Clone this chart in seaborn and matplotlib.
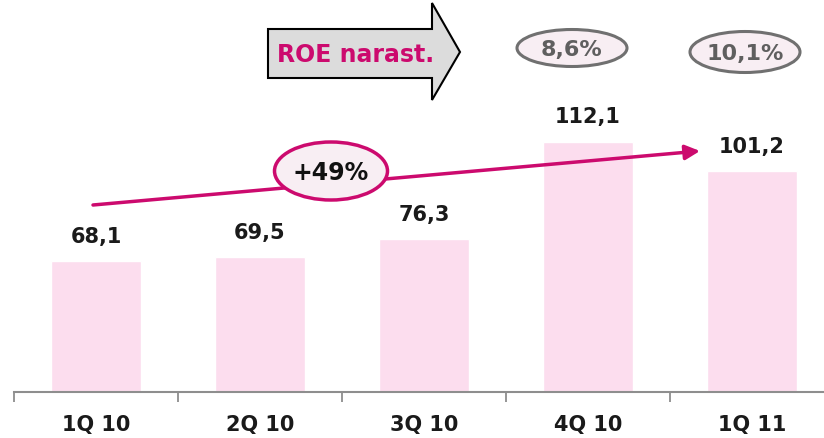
import matplotlib
matplotlib.use('Agg')
import matplotlib.pyplot as plt
import seaborn as sns
from matplotlib.patches import Ellipse, Polygon
from matplotlib.transforms import Affine2D

quarters = ['1Q 10', '2Q 10', '3Q 10', '4Q 10', '1Q 11']
values = [68.1, 69.5, 76.3, 112.1, 101.2]
roe_labels = ['8,6%', '10,1%']
growth_label = '+49%'
roe_title = 'ROE narast.'

magenta = '#CC0A6E'
pink = '#FCDDEE'
grey_axis = '#8E8E8E'

sns.set_style('white')
plt.rcParams['font.family'] = ['DejaVu Sans']

fig = plt.figure(figsize=(8.24, 4.39), dpi=100)
# axis spans from x=14px, baseline at y=393px, top at the figure edge
ax = fig.add_axes([14 / 824, 1 - 393 / 439, 820 / 824, 393 / 439])
sns.barplot(x=quarters, y=values, color=pink, width=0.55, saturation=1, ax=ax)
ax.set_xlim(-0.5, 4.5)
ax.set_ylim(20, 164.5)

labels = [f'{v:.1f}'.replace('.', ',') for v in values]
ax.bar_label(ax.containers[0], labels=labels, padding=11, fontsize=15,
             fontweight='bold', color='#1A1A1A')

for s in ['left', 'right', 'top']:
    ax.spines[s].set_visible(False)
ax.spines['bottom'].set_color(grey_axis)
ax.spines['bottom'].set_linewidth(1.5)
ax.set_yticks([])
ax.set_xlabel('')
ax.set_ylabel('')
ax.set_xticks(range(len(quarters)))
ax.set_xticklabels(quarters, fontsize=15, fontweight='bold', color='#1A1A1A')
ax.tick_params(axis='x', which='major', bottom=True, length=0, pad=16)
ax.set_xticks([i - 0.5 for i in range(len(quarters) + 1)], minor=True)
ax.tick_params(axis='x', which='minor', bottom=True, length=7, width=1.3,
               color=grey_axis, direction='out')

# decorations in image pixel coordinates (y measured from top)
px = Affine2D().scale(1, -1).translate(0, 439)

# growth arrow across the bars
ax.annotate('', xy=(700, 152), xytext=(93, 206), xycoords=px, textcoords=px,
            arrowprops=dict(arrowstyle='-|>', color=magenta, lw=2.5,
                            mutation_scale=22, shrinkA=0, shrinkB=0),
            annotation_clip=False)
fig.patches.append(Ellipse((331, 172), 113, 58, transform=px, facecolor='#F8EEF3',
                           edgecolor=magenta, lw=2.5, zorder=5))
fig.text(331, 173, growth_label, transform=px, ha='center', va='center',
         fontsize=17, fontweight='bold', color='#111111', zorder=6)

# ROE block arrow
arrow_pts = [(268, 30), (432, 30), (432, 4), (460, 53), (432, 101), (432, 79), (268, 79)]
fig.patches.append(Polygon(arrow_pts, closed=True, transform=px, facecolor='#DCDCDC',
                           edgecolor='black', lw=1.5, zorder=5))
fig.text(356, 55, roe_title, transform=px, ha='center', va='center',
         fontsize=17, fontweight='bold', color=magenta, zorder=6)

# ROE ovals
for (cx, cy, w, h), lab in zip([(572, 49, 110, 37), (745, 53, 110, 41)], roe_labels):
    fig.patches.append(Ellipse((cx, cy), w, h, transform=px, facecolor='#F8EEF3',
                               edgecolor='#707070', lw=2.2, zorder=5))
    fig.text(cx, cy + 1, lab, transform=px, ha='center', va='center',
             fontsize=16, fontweight='bold', color='#5F5F5F', zorder=6)

fig.savefig('out.png', dpi=100)
plt.close(fig)
